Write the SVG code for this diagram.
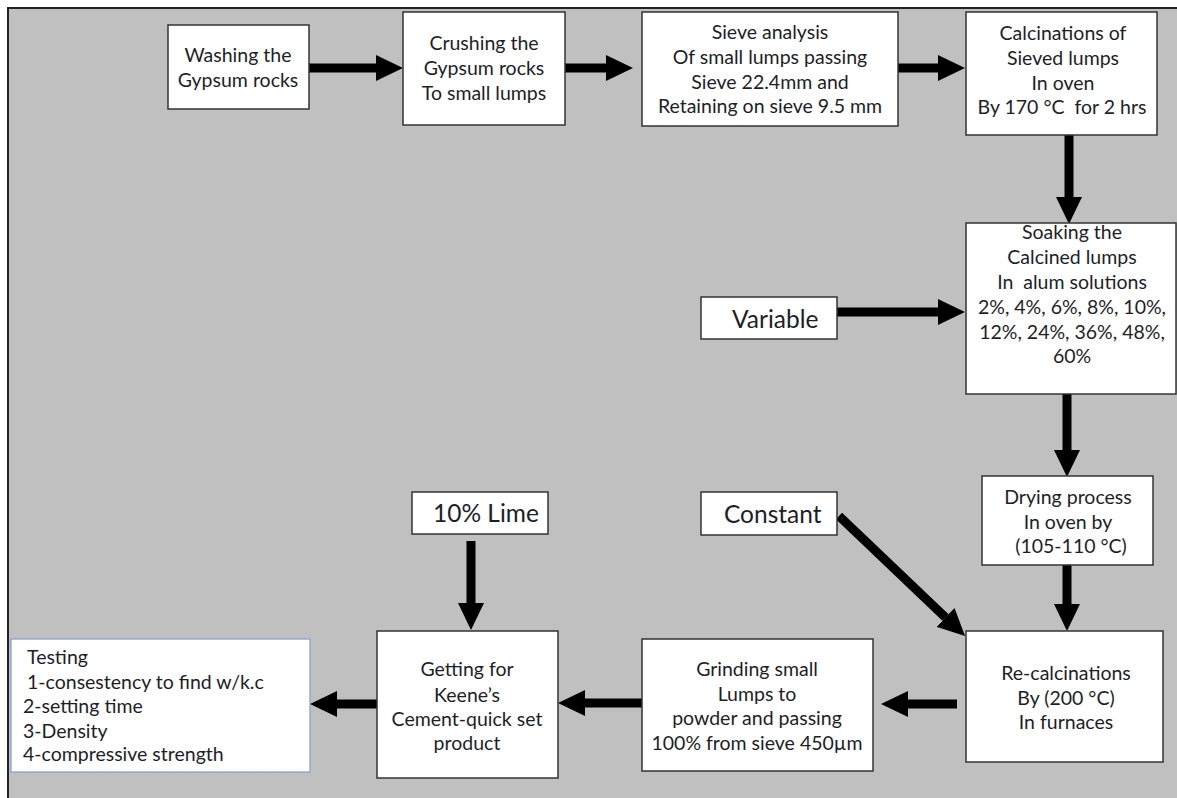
<svg xmlns="http://www.w3.org/2000/svg" width="1177" height="798" viewBox="0 0 1177 798">
<style>
.box{fill:#ffffff;stroke:#333333;stroke-width:1.5}
.tbox{fill:#ffffff;stroke:#7f9fcf;stroke-width:1.2}
.t{font-family:Lato,"Liberation Sans",sans-serif;font-size:19.5px;fill:#1e1e28;text-anchor:middle}
.tl{font-family:Lato,"Liberation Sans",sans-serif;font-size:19.5px;fill:#1e1e28}
.big{font-family:Lato,"Liberation Sans",sans-serif;font-size:24.5px;fill:#1e1e28}
.c{stroke:#000000;stroke-width:9;fill:none;marker-end:url(#ah)}
</style>
<defs>
<marker id="ah" viewBox="0 0 27 26" refX="0" refY="13" markerWidth="27" markerHeight="26" markerUnits="userSpaceOnUse" orient="auto">
<path d="M0,0 L27,13 L0,26 Z" fill="#000000"/>
</marker>
</defs>
<rect x="0" y="0" width="1177" height="798" fill="#ffffff"/>
<rect x="8" y="8" width="1200" height="820" fill="#c0c0c0" stroke="#222222" stroke-width="2"/>

<g id="connectors">
<line class="c" x1="309" y1="68" x2="376" y2="68"/>
<line class="c" x1="565" y1="68" x2="606" y2="68"/>
<line class="c" x1="898" y1="68" x2="938" y2="68"/>
<line class="c" x1="1069" y1="135" x2="1069" y2="197"/>
<line class="c" x1="837" y1="312" x2="938" y2="312"/>
<line class="c" x1="1067" y1="394" x2="1067" y2="450"/>
<line class="c" x1="1067" y1="565" x2="1067" y2="604"/>
<line class="c" x1="839" y1="516" x2="945.5" y2="617.4"/>
<line class="c" x1="957" y1="704" x2="908" y2="704"/>
<line class="c" x1="642" y1="703" x2="585" y2="703"/>
<line class="c" x1="377" y1="704" x2="337" y2="704"/>
<line class="c" x1="471" y1="541" x2="471" y2="603"/>
</g>

<g id="washing">
<rect class="box" x="168" y="25" width="141" height="84"/>
<text class="t" x="238" y="62">Washing the</text>
<text class="t" x="238" y="87">Gypsum rocks</text>
</g>

<g id="crushing">
<rect class="box" x="403" y="12" width="162" height="113"/>
<text class="t" x="484" y="50">Crushing the</text>
<text class="t" x="484" y="75">Gypsum rocks</text>
<text class="t" x="484" y="100">To small lumps</text>
</g>

<g id="sieve">
<rect class="box" x="642" y="12" width="256" height="114"/>
<text class="t" x="770" y="39">Sieve analysis</text>
<text class="t" x="770" y="64">Of small lumps passing</text>
<text class="t" x="770" y="89">Sieve 22.4mm and</text>
<text class="t" x="770" y="113">Retaining on sieve 9.5 mm</text>
</g>

<g id="calcination">
<rect class="box" x="966" y="12" width="191" height="123"/>
<text class="t" x="1063" y="40">Calcinations of</text>
<text class="t" x="1063" y="65">Sieved lumps</text>
<text class="t" x="1063" y="90">In oven</text>
<text class="t" x="1062" y="114" xml:space="preserve">By 170 °C  for 2 hrs</text>
</g>

<g id="soaking">
<rect class="box" x="966" y="223" width="210" height="171"/>
<text class="t" x="1072" y="239">Soaking the</text>
<text class="t" x="1072" y="264">Calcined lumps</text>
<text class="t" x="1072" y="289" xml:space="preserve">In  alum solutions</text>
<text class="t" x="1072" y="314">2%, 4%, 6%, 8%, 10%,</text>
<text class="t" x="1072" y="339">12%, 24%, 36%, 48%,</text>
<text class="t" x="1072" y="363">60%</text>
</g>

<g id="variable">
<rect class="box" x="701" y="297" width="136" height="42"/>
<text class="big" x="732" y="328">Variable</text>
</g>

<g id="drying">
<rect class="box" x="982" y="476" width="171" height="89"/>
<text class="t" x="1068" y="504">Drying process</text>
<text class="t" x="1068" y="529">In oven by</text>
<text class="t" x="1071" y="553">(105-110 °C)</text>
</g>

<g id="constant">
<rect class="box" x="701" y="492" width="136" height="43"/>
<text class="big" x="724" y="523">Constant</text>
</g>

<g id="recalcination">
<rect class="box" x="966" y="631" width="197" height="131"/>
<text class="t" x="1066" y="680">Re-calcinations</text>
<text class="t" x="1066" y="705">By (200 °C)</text>
<text class="t" x="1066" y="729">In furnaces</text>
</g>

<g id="grinding">
<rect class="box" x="642" y="639" width="231" height="132"/>
<text class="t" x="757" y="676">Grinding small</text>
<text class="t" x="757" y="701">Lumps to</text>
<text class="t" x="757" y="725">powder and passing</text>
<text class="t" x="757" y="750">100% from sieve 450µm</text>
</g>

<g id="lime">
<rect class="box" x="412" y="492" width="136" height="42"/>
<text class="big" x="433" y="522">10% Lime</text>
</g>

<g id="getting">
<rect class="box" x="377" y="631" width="181" height="147"/>
<text class="t" x="467" y="676">Getting for</text>
<text class="t" x="467" y="702">Keene’s</text>
<text class="t" x="467" y="726">Cement-quick set</text>
<text class="t" x="467" y="750">product</text>
</g>

<g id="testing">
<rect class="tbox" x="11" y="639" width="299" height="133"/>
<text class="tl" x="27" y="664">Testing</text>
<text class="tl" x="27" y="689">1-consestency to find w/k.c</text>
<text class="tl" x="23" y="713">2-setting time</text>
<text class="tl" x="23" y="738">3-Density</text>
<text class="tl" x="23" y="761">4-compressive strength</text>
</g>
</svg>
